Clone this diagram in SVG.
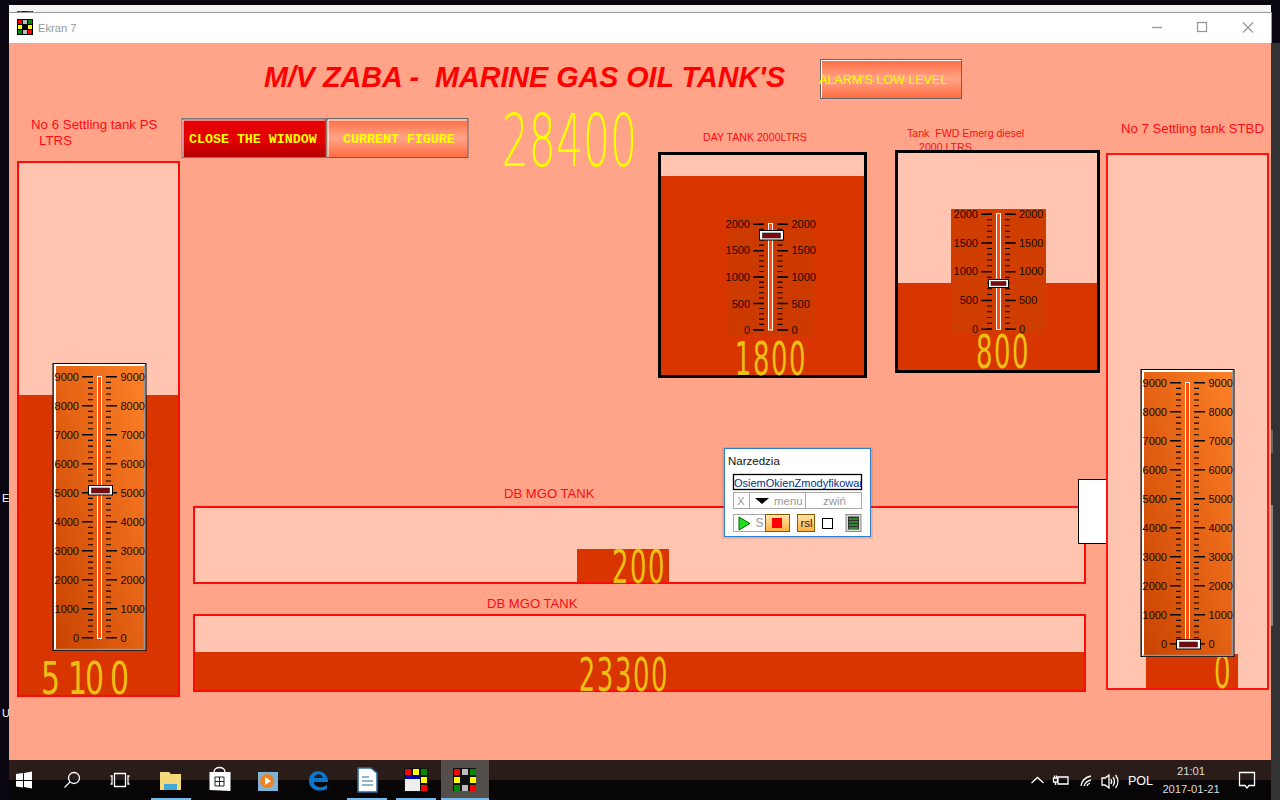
<svg xmlns="http://www.w3.org/2000/svg" width="1280" height="800" viewBox="0 0 1280 800">
<style>
text{font-family:"Liberation Sans",Arial,sans-serif;white-space:pre}
.lbl{fill:#ff0a14}
.tankr{fill:#ffc5b0;stroke:#ff0a0a;stroke-width:2}
.tankk{fill:#ffc5b0;stroke:#000;stroke-width:3}
.lvl{fill:#d83500}
.sc{font-size:11px;fill:#1c0800}
.e{text-anchor:end}
.lcd{font-family:"DejaVu Sans",sans-serif;fill:#ecc012;font-size:26px;letter-spacing:1.5px}
.btn{font-family:"Liberation Mono",monospace;font-weight:bold;font-size:13.3px;fill:#ffff00}
.tk{stroke:#000;fill:none}
.tr{fill:#ff4a08;stroke:#fff;stroke-width:1}
.thumbo{fill:#fff;stroke:#000;stroke-width:1}
.thumbi{fill:#7a0a10;stroke:#222;stroke-width:.6}
.ui{font-size:11.5px;fill:#999}
.tb{fill:none;stroke:#fff;stroke-width:1.3}
.ul{fill:#76b9ed}
.ctl{fill:none;stroke:#999;stroke-width:1.3}
</style>
<defs>
<linearGradient id="gauge" x1="0" y1="1" x2="1" y2="0"><stop offset="0" stop-color="#c84200"/><stop offset="1" stop-color="#ff8228"/></linearGradient>
<linearGradient id="red" x1="0" y1="0" x2="0" y2="1"><stop offset="0" stop-color="#e80000"/><stop offset=".6" stop-color="#e00000"/><stop offset="1" stop-color="#b00000"/></linearGradient>
<linearGradient id="or" x1="0" y1="0" x2="0" y2="1"><stop offset="0" stop-color="#ff6c40"/><stop offset=".5" stop-color="#ffa488"/><stop offset="1" stop-color="#ff6c40"/></linearGradient>
<linearGradient id="amb" x1="0" y1="0" x2="0" y2="1"><stop offset="0" stop-color="#ffe6b0"/><stop offset="1" stop-color="#ffb040"/></linearGradient>
<g id="ticks9">
<line class="tk" x1="87.5" x2="87.5" y1="376" y2="639" stroke-width="11" stroke-dasharray="1.6 27.4"/>
<line class="tk" x1="111.5" x2="111.5" y1="376" y2="639" stroke-width="11" stroke-dasharray="1.6 27.4"/>
<line class="tk" x1="90.5" x2="90.5" y1="376" y2="639" stroke-width="5" stroke-dasharray="1.1 4.7"/>
<line class="tk" x1="108.5" x2="108.5" y1="376" y2="639" stroke-width="5" stroke-dasharray="1.1 4.7"/>
<rect class="tr" x="97.5" y="376.5" width="4" height="262"/>
</g>
<clipPath id="inp"><rect x="734" y="475" width="127" height="14"/></clipPath>
</defs>

<g id="desktop">
<rect width="1280" height="800" fill="#0a0610"/>
<rect x="9" y="5" width="1262" height="8" fill="#f4f4f4"/>
<rect x="17" y="11" width="16" height="2" fill="#222"/><rect x="18" y="11" width="4" height="1.500" fill="#f00"/><rect x="28" y="11" width="4" height="1.500" fill="#080"/>
<rect x="1271" y="43" width="9" height="757" fill="#333"/>
<rect x="1271" y="430" width="2" height="23" fill="#666"/>
<rect x="1271" y="505" width="2" height="121" fill="#888"/>
<text x="2" y="502" font-size="11" fill="#fff">E</text>
<text x="2" y="717" font-size="11" fill="#fff">U</text>
</g>

<g id="window">
<rect x="9" y="12" width="1262" height="31" fill="#fff"/>
<rect x="9" y="12" width="1262" height="1" fill="#999"/>
<rect x="1271" y="12" width="1" height="31" fill="#999"/>
<rect x="9" y="43" width="1262" height="717" fill="#ffa488"/>
<g id="app-icon">
<rect x="17" y="19" width="16" height="16" fill="#000"/>
<rect x="18" y="20" width="4" height="4" fill="#f00"/><rect x="23" y="20" width="4" height="4" fill="#bbb"/><rect x="28" y="20" width="4" height="4" fill="#080"/>
<rect x="18" y="25" width="4" height="4" fill="#ff0"/><rect x="28" y="25" width="4" height="4" fill="#ff0"/>
<rect x="18" y="30" width="4" height="4" fill="#080"/><rect x="23" y="30" width="4" height="4" fill="#bbb"/><rect x="28" y="30" width="4" height="4" fill="#f00"/>
</g>
<text x="38" y="32" font-size="11.2" fill="#999">Ekran 7</text>
<path class="ctl" d="M1152 27.5h10"/>
<rect class="ctl" x="1197.5" y="22.5" width="9" height="9"/>
<path class="ctl" d="M1243 22.500l10 10M1253 22.500l-10 10"/>
</g>

<g id="title"><text x="264" y="87" font-size="28.7" font-weight="bold" font-style="italic" fill="#ff0000">M/V ZABA -  MARINE GAS OIL TANK'S</text></g>

<g id="btn-close">
<rect x="182" y="118.500" width="144" height="39" fill="url(#red)" stroke="#777"/>
<path d="M183 157V120H325" fill="none" stroke="#fff"/>
<text class="btn" x="189" y="143">CLOSE THE WINDOW</text>
</g>
<g id="btn-current">
<rect x="327" y="118.500" width="141" height="39" fill="url(#or)" stroke="#666"/>
<path d="M328 157V120H467" fill="none" stroke="#fff"/>
<text class="btn" x="343" y="143">CURRENT FIGURE</text>
</g>
<g id="btn-alarm">
<rect x="820.500" y="59.500" width="141" height="39" fill="url(#or)" stroke="#666"/>
<path d="M821.500 98V60.500H961" fill="none" stroke="#fff"/>
<text x="819" y="84" font-size="12.5" fill="#ffff00">ALARM'S LOW LEVEL</text>
</g>
<g id="total"><text class="lcd" transform="translate(637,165.500) scale(1,1.7)" text-anchor="end" style="fill:#ffff00;font-size:42.5px;font-weight:200;letter-spacing:0">28400</text></g>

<g id="tank-no6">
<text class="lbl" x="31" y="129" font-size="13.3">No 6 Settling tank PS</text>
<text class="lbl" x="39" y="145" font-size="13.3">LTRS</text>
<rect class="tankr" x="18" y="162" width="161" height="534"/>
<rect class="lvl" x="19" y="395" width="159" height="300"/>
<text class="lcd" transform="translate(0,694) scale(1,1.5)" x="41 68 85 110" style="font-size:30px;letter-spacing:0">5100</text>
<g id="gauge-no6">
<rect x="53" y="363.500" width="93" height="287" fill="url(#gauge)" stroke="#000"/>
<path d="M55 650V365H145" fill="none" stroke="#fff" stroke-width="2"/>
<path d="M55 649.500H144.500V365" fill="none" stroke="#999" stroke-width="1.600"/>
<use href="#ticks9"/>
<g class="sc">
<text class="e" x="79" y="381">9000</text><text class="e" x="79" y="410">8000</text><text class="e" x="79" y="439">7000</text><text class="e" x="79" y="468">6000</text><text class="e" x="79" y="497">5000</text><text class="e" x="79" y="526">4000</text><text class="e" x="79" y="555">3000</text><text class="e" x="79" y="584">2000</text><text class="e" x="79" y="613">1000</text><text class="e" x="79" y="642">0</text>
<text x="120.500" y="381">9000</text><text x="120.500" y="410">8000</text><text x="120.500" y="439">7000</text><text x="120.500" y="468">6000</text><text x="120.500" y="497">5000</text><text x="120.500" y="526">4000</text><text x="120.500" y="555">3000</text><text x="120.500" y="584">2000</text><text x="120.500" y="613">1000</text><text x="120.500" y="642">0</text>
</g>
<rect class="thumbo" x="88.500" y="485.500" width="24" height="9.500" stroke-width="1.500"/>
<rect class="thumbi" x="91.500" y="488" width="18" height="5"/>
</g>
</g>

<g id="tank-no7">
<text class="lbl" x="1121" y="133" font-size="13.2">No 7 Settling tank STBD</text>
<rect class="tankr" x="1107" y="154" width="161" height="535" style="stroke:#ff1414"/>
<rect class="lvl" x="1146" y="654" width="92" height="34"/>
<text class="lcd" transform="translate(1232,688) scale(1,1.79)" text-anchor="end">0</text>
<g id="gauge-no7">
<rect x="1141" y="369.500" width="93" height="287" fill="url(#gauge)" stroke="#000"/>
<path d="M1143 656V371H1233" fill="none" stroke="#fff" stroke-width="2"/>
<path d="M1143 655.500H1232.500V371" fill="none" stroke="#999" stroke-width="1.600"/>
<use href="#ticks9" x="1088" y="6"/>
<g class="sc">
<text class="e" x="1167" y="387">9000</text><text class="e" x="1167" y="416">8000</text><text class="e" x="1167" y="445">7000</text><text class="e" x="1167" y="474">6000</text><text class="e" x="1167" y="503">5000</text><text class="e" x="1167" y="532">4000</text><text class="e" x="1167" y="561">3000</text><text class="e" x="1167" y="590">2000</text><text class="e" x="1167" y="619">1000</text><text class="e" x="1167" y="648">0</text>
<text x="1208.500" y="387">9000</text><text x="1208.500" y="416">8000</text><text x="1208.500" y="445">7000</text><text x="1208.500" y="474">6000</text><text x="1208.500" y="503">5000</text><text x="1208.500" y="532">4000</text><text x="1208.500" y="561">3000</text><text x="1208.500" y="590">2000</text><text x="1208.500" y="619">1000</text><text x="1208.500" y="648">0</text>
</g>
<rect class="thumbo" x="1176.500" y="639.500" width="24" height="9.500" stroke-width="1.500"/>
<rect class="thumbi" x="1179.500" y="642" width="18" height="5"/>
</g>
</g>

<g id="tank-day">
<text class="lbl" x="703" y="141" font-size="10.600">DAY TANK 2000LTRS</text>
<rect class="tankk" x="659.500" y="153.500" width="206" height="223"/>
<rect class="lvl" x="661" y="176" width="203" height="199"/>
<rect x="727" y="216" width="87" height="120" fill="#cc3a00"/>
<line class="tk" x1="758.500" x2="758.500" y1="223.500" y2="332" stroke-width="10.500" stroke-dasharray="1.600 24.800"/>
<line class="tk" x1="782.800" x2="782.800" y1="223.500" y2="332" stroke-width="10.500" stroke-dasharray="1.600 24.800"/>
<line class="tk" x1="761.500" x2="761.500" y1="223.500" y2="332" stroke-width="5" stroke-dasharray="1.100 4.180"/>
<line class="tk" x1="780" x2="780" y1="223.500" y2="332" stroke-width="5" stroke-dasharray="1.100 4.180"/>
<rect class="tr" x="768.500" y="223.500" width="4" height="106.500"/>
<g class="sc">
<text class="e" x="750" y="228">2000</text><text class="e" x="750" y="254">1500</text><text class="e" x="750" y="281">1000</text><text class="e" x="750" y="308">500</text><text class="e" x="750" y="334">0</text>
<text x="791.500" y="228">2000</text><text x="791.500" y="254">1500</text><text x="791.500" y="281">1000</text><text x="791.500" y="308">500</text><text x="791.500" y="334">0</text>
</g>
<rect class="thumbo" x="759.500" y="230.500" width="24" height="9.500" stroke-width="1.500"/>
<rect class="thumbi" x="762.500" y="233" width="18" height="5"/>
<text class="lcd" transform="translate(807,375) scale(1,1.79)" text-anchor="end">1800</text>
</g>

<g id="tank-fwd">
<text class="lbl" x="907" y="137" font-size="10.600">Tank  FWD Emerg diesel</text>
<text class="lbl" x="919" y="151" font-size="10.600">2000 LTRS</text>
<rect class="tankk" x="896.500" y="151.500" width="202" height="220"/>
<rect class="lvl" x="898" y="283" width="199" height="87"/>
<rect x="951" y="209" width="95" height="124.500" fill="#cf3e00"/>
<line class="tk" x1="986.500" x2="986.500" y1="213.500" y2="332" stroke-width="10.500" stroke-dasharray="1.600 27.150"/>
<line class="tk" x1="1010.500" x2="1010.500" y1="213.500" y2="332" stroke-width="10.500" stroke-dasharray="1.600 27.150"/>
<line class="tk" x1="989.500" x2="989.500" y1="213.500" y2="332" stroke-width="5" stroke-dasharray="1.100 4.650"/>
<line class="tk" x1="1007.500" x2="1007.500" y1="213.500" y2="332" stroke-width="5" stroke-dasharray="1.100 4.650"/>
<rect class="tr" x="996.500" y="213.500" width="4" height="116" style="stroke-width:1"/>
<g class="sc">
<text class="e" x="978" y="218">2000</text><text class="e" x="978" y="247">1500</text><text class="e" x="978" y="275">1000</text><text class="e" x="978" y="304">500</text><text class="e" x="978" y="333">0</text>
<text x="1019" y="218">2000</text><text x="1019" y="247">1500</text><text x="1019" y="275">1000</text><text x="1019" y="304">500</text><text x="1019" y="333">0</text>
</g>
<rect class="thumbo" x="988.500" y="279.500" width="20" height="8" stroke-width="1.500"/>
<rect class="thumbi" x="991" y="281.500" width="15" height="4"/>
<text class="lcd" transform="translate(1030,367.500) scale(1,1.79)" text-anchor="end">800</text>
</g>

<g id="tank-db1">
<text class="lbl" x="504" y="498" font-size="13.1">DB MGO TANK</text>
<rect class="tankr" x="194" y="507" width="891" height="76"/>
<rect class="lvl" x="577" y="549" width="92" height="33"/>
<text class="lcd" transform="translate(666,582.500) scale(1,1.79)" text-anchor="end">200</text>
</g>
<g id="tank-db2">
<text class="lbl" x="487" y="608" font-size="13.1">DB MGO TANK</text>
<rect class="tankr" x="194" y="615" width="891" height="76"/>
<rect class="lvl" x="195" y="652" width="889" height="38"/>
<text class="lcd" transform="translate(669,690.500) scale(1,1.79)" text-anchor="end">23300</text>
</g>
<g id="white-box"><rect x="1078.500" y="479.500" width="28" height="64" fill="#fff" stroke="#000"/><rect x="1106" y="479" width="2" height="65" fill="#ff1414"/></g>

<g id="toolbox">
<rect x="722" y="447" width="151" height="92" fill="#a05040" opacity=".18"/>
<rect x="724.500" y="448.500" width="146" height="88" fill="#fff" stroke="#2d7fd0"/>
<text x="728" y="465" font-size="11.500" fill="#111">Narzedzia</text>
<rect x="733.500" y="474.500" width="128" height="15" fill="#fff" stroke="#000" stroke-width="1.300"/>
<text x="734" y="486.500" font-size="11" fill="#003090" clip-path="url(#inp)">OsiemOkienZmodyfikowan</text>
<rect x="733.500" y="492.500" width="128" height="16" fill="#fff" stroke="#aaa"/>
<path d="M749.500 492.500v16M805.500 492.500v16" stroke="#aaa"/>
<text class="ui" x="737" y="505">X</text>
<path d="M755 498h14l-7 6z" fill="#000"/>
<text class="ui" x="774" y="505">menu</text>
<text class="ui" x="823" y="505">zwiń</text>
<rect x="733.500" y="514.500" width="32" height="17" fill="#fff" stroke="#aaa"/>
<path d="M739 517l11 6.500-11 6.500z" fill="#1ee01e" stroke="#060"/>
<text class="ui" x="755.500" y="527" style="font-size:12px">S</text>
<rect x="765.500" y="514.500" width="24" height="17" fill="url(#amb)" stroke="#8a5a00"/>
<rect x="772" y="518" width="10" height="10" fill="#f00"/>
<rect x="797.500" y="514.500" width="17" height="17" fill="url(#amb)" stroke="#8a5a00"/>
<text x="800.500" y="527" font-size="11.500" fill="#222">rsl</text>
<rect x="822.500" y="518.500" width="10" height="10" fill="#fff" stroke="#000"/>
<rect x="846" y="514.500" width="15" height="17" fill="#ddd" stroke="#888"/>
<rect x="848" y="516.500" width="11" height="13" fill="#333"/>
<path d="M849 519h9M849 522h9M849 525h9M849 528h9" stroke="#3d3" stroke-width="1"/>
</g>

<g id="taskbar">
<rect x="9" y="760" width="1262" height="20" fill="#2a1c18"/>
<rect x="9" y="780" width="1262" height="20" fill="#070505"/>
<rect x="441" y="760" width="48" height="40" fill="#544e4a"/>
<path d="M16 774l7-1v7h-7zM24 773l8-1.500V780h-8zM16 781h7v6.500l-7-1zM24 781h8v7.500l-8-1.500z" fill="#fff"/>
<circle cx="74" cy="778" r="5.500" class="tb"/><path class="tb" d="M70 782l-5.500 5.500"/>
<path class="tb" d="M114.500 773.500h11v13h-11zM110.500 776h1.500v8h-1.500M129.500 776h-1.500v8h1.500"/>
<path d="M160 772h9l2 2h10v16h-21z" fill="#f5d87a"/><rect x="164" y="784" width="13" height="6" fill="#3fa9d8"/>
<path d="M209.500 772h21v19l-21-1z" fill="#fff"/><path class="tb" d="M214 772c0-6 11-6 11 0" stroke-width="1"/><path d="M215 777h9v9h-9zM219.500 777v9M215 781.500h9" stroke="#222" fill="none"/>
<rect x="258" y="772" width="20" height="19" fill="#7fb3d5"/><circle cx="267" cy="781" r="7" fill="#f08020"/><path d="M265 777l6 4-6 4z" fill="#fff"/>
<path d="M309 781c0-13 19-13 19 1h-14c0 5 7 7 13 3v4c-9 4-18 0-18-8zM314 778h9c-1-5-8-5-9 0z" fill="#0a78d0" fill-rule="evenodd"/>
<path d="M358 768h13l6 5v19h-19z" fill="#fff" stroke="#2a6a9a" stroke-width="1.500"/><path d="M362 777h7M362 781h11M362 785h11" stroke="#2a6a9a" stroke-width="1.200"/>
<g id="task-app1"><rect x="404" y="768" width="24" height="24" fill="#111"/><rect x="405" y="769" width="6" height="6" fill="#f00"/><rect x="413" y="769" width="6" height="6" fill="#ff0"/><rect x="421" y="769" width="6" height="6" fill="#080"/><rect x="421" y="777" width="6" height="6" fill="#ff0"/><rect x="421" y="785" width="6" height="6" fill="#f00"/><rect x="405" y="776" width="15" height="15" fill="#eee"/><rect x="405" y="776" width="15" height="3" fill="#00a"/></g>
<g id="task-app2"><rect x="453" y="768" width="23" height="23" fill="#111"/><rect x="454" y="769" width="6" height="6" fill="#f00"/><rect x="462" y="769" width="6" height="6" fill="#bbb"/><rect x="470" y="769" width="6" height="6" fill="#080"/><rect x="454" y="777" width="6" height="6" fill="#ff0"/><rect x="470" y="777" width="6" height="6" fill="#ff0"/><rect x="454" y="785" width="6" height="6" fill="#080"/><rect x="462" y="785" width="6" height="6" fill="#bbb"/><rect x="470" y="785" width="6" height="6" fill="#f00"/></g>
<rect class="ul" x="151" y="798" width="40" height="2"/><rect class="ul" x="347" y="798" width="40" height="2"/><rect class="ul" x="396" y="798" width="40" height="2"/><rect class="ul" x="441" y="798" width="48" height="2"/>
<path class="tb" d="M1031.500 783l6-5.500 6 5.500"/>
<path class="tb" d="M1058 777h10v7h-10zM1053.500 778h4v4h-4zM1055.500 782v3M1054.500 778v-2.500M1056.500 778v-2.500" stroke-width="1"/>
<path class="tb" d="M1081 786c1-6 5-9 10-10M1084 786c1-3 3-5 7-6M1087 786c0-1 1-2 3-3" stroke-width="1"/>
<path class="tb" d="M1102 778h3l4-3v13l-4-3h-3zM1111 779c1 2 1 3 0 5M1113 777c2 3 2 6 0 9M1115.500 775c3 4 3 9 0 13" stroke-width="1"/>
<text x="1128" y="785" font-size="12.500" fill="#fff">POL</text>
<text x="1191" y="775" font-size="11.200" fill="#ddd" text-anchor="middle">21:01</text>
<text x="1191" y="793" font-size="11.200" fill="#ddd" text-anchor="middle">2017-01-21</text>
<path class="tb" d="M1239.500 772.500h15v13h-5.500l-2 2.500-2-2.500h-5.500z"/>
</g>
</svg>
